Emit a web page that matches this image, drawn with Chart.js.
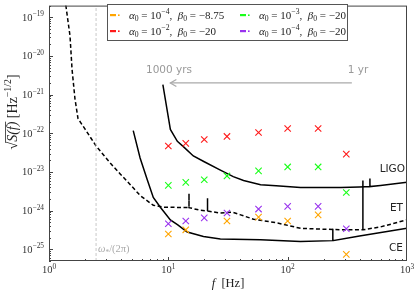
<!DOCTYPE html>
<html>
<head>
<meta charset="utf-8">
<script src="https://cdn.jsdelivr.net/npm/chart.js@4.4.0/dist/chart.umd.min.js"></script>
<style>
  html, body { margin: 0; padding: 0; background: #fff; }
</style>
</head>
<body>
<canvas id="c" width="415" height="291"></canvas>
<script>
// signal points (f in Hz, sqrt(S) in Hz^-1/2)
const freqs = [10, 14, 20, 31, 57, 100, 180, 310];
const orangeVals = [2.5e-25, 3.2e-25, null, 5.4e-25, 6.8e-25, 5.4e-25, 7.8e-25, 7.4e-26];
const redVals = [4.7e-23, 5.5e-23, 6.9e-23, 8.3e-23, 1.05e-22, 1.33e-22, 1.33e-22, 2.9e-23];
const greenVals = [4.5e-24, 5.4e-24, 6.3e-24, 7.9e-24, 1.07e-23, 1.35e-23, 1.35e-23, 2.95e-24];
const purpleVals = [4.6e-25, 5.4e-25, 6.5e-25, 8.7e-25, 1.1e-24, 1.29e-24, 1.29e-24, 3.4e-25];

// detector noise curves
const ligoFreq = [9.0, 10.4, 11.9, 13.5, 16.2, 20, 26.8, 35, 42.7, 59.3, 80, 128, 200, 279, 400, 489, 489, 489, 600, 1000];
const ligoAsd = [1.8e-21, 1.26e-22, 6.2e-23, 4.4e-23, 2.6e-23, 1.84e-23, 1.15e-23, 7.6e-24, 6.0e-24, 4.7e-24, 4.4e-24, 4.0e-24, 4.0e-24, 4.0e-24, 4.1e-24, 4.2e-24, 6.8e-24, 4.2e-24, 4.5e-24, 5.4e-24];

const etFreq = [1.36, 1.50, 1.56, 1.65, 1.75, 2.0, 2.48, 3.26, 3.95, 4.8, 5.82, 7.48, 9.08, 14.9, 14.9, 14.9, 18.6, 21.3, 21.3, 21.3, 27.3, 34.5, 40.3, 51.8, 82.4, 128, 279, 427, 600, 1000];
const etAsd = [3e-19, 3.3e-20, 4.5e-21, 7.8e-22, 2.4e-22, 1.3e-22, 4.7e-23, 1.7e-23, 8.9e-24, 4.7e-24, 2.45e-24, 1.38e-24, 1.23e-24, 1.2e-24, 2.75e-24, 1.2e-24, 1.02e-24, 9.8e-25, 2.1e-24, 9.8e-25, 8.7e-25, 9.1e-25, 7.8e-25, 6.0e-25, 4.8e-25, 3.5e-25, 3.2e-25, 3.2e-25, 3.8e-25, 5.8e-25];
const etLineFreq = [427, 427];
const etLineAsd = [3.2e-25, 6.0e-24];

const ceFreq = [5.08, 5.8, 6.66, 7.48, 8.57, 10.4, 12, 14.4, 19.7, 27.3, 59.3, 128, 239, 239, 239, 400, 1000];
const ceAsd = [1.17e-22, 2.3e-23, 6.3e-24, 2.2e-24, 1.23e-24, 5.75e-25, 4.3e-25, 2.8e-25, 2.15e-25, 1.86e-25, 1.78e-25, 1.6e-25, 1.68e-25, 3.4e-25, 1.68e-25, 2.2e-25, 3.5e-25];

const omegaStar = 2.48;
const arrowFreq = [345, 10.4];
const arrowAsd = 2e-21;

const xTicks = [1, 10, 100, 1000];
const xTickExp = ['0', '1', '2', '3'];
const yTicks = [1e-25, 1e-24, 1e-23, 1e-22, 1e-21, 1e-20, 1e-19];
const yTickExp = ['\u221225', '\u221224', '\u221223', '\u221222', '\u221221', '\u221220', '\u221219'];

const cOrange = '#ffa500';
const cRed = '#ff1a1a';
const cGreen = '#1aff1a';
const cPurple = '#9933ee';

const SERIF = '"Liberation Serif", "DejaVu Serif", serif';
const SANS = '"DejaVu Sans", "Liberation Sans", sans-serif';

function pairs(fs, vs) {
  return fs.map((f, i) => ({ x: f, y: vs[i] }));
}
function pts(vals) {
  return freqs.map((f, i) => ({ x: f, y: vals[i] })).filter(p => p.y !== null);
}
function crosses(vals, color) {
  return {
    data: pts(vals), showLine: false, pointStyle: 'crossRot',
    pointRadius: 4.5, borderColor: color, borderWidth: 1.1, backgroundColor: color
  };
}
function curve(data, dash) {
  return {
    data: data, showLine: true, pointRadius: 0, borderColor: '#000',
    borderWidth: 1.5, borderDash: dash || [], tension: 0, fill: false
  };
}

// rich text: parts {t, it, sup, sub, over}
function richWidth(ctx, parts, size, family) {
  let w = 0;
  parts.forEach(p => {
    const s = (p.sup || p.sub) ? size * 0.7 : size;
    ctx.font = (p.it ? 'italic ' : '') + s + 'px ' + family;
    w += ctx.measureText(p.t).width;
  });
  return w;
}
function drawRich(ctx, parts, x, y, size, family) {
  parts.forEach(p => {
    const s = (p.sup || p.sub) ? size * 0.7 : size;
    ctx.font = (p.it ? 'italic ' : '') + s + 'px ' + family;
    let dy = 0;
    if (p.sup) dy = -size * 0.42;
    if (p.sub) dy = size * 0.25;
    ctx.fillText(p.t, x, y + dy);
    const w = ctx.measureText(p.t).width;
    if (p.over) {
      ctx.save();
      ctx.lineWidth = 0.8;
      ctx.beginPath();
      ctx.moveTo(x - 1, y - size * 0.82);
      ctx.lineTo(x + w, y - size * 0.82);
      ctx.stroke();
      ctx.restore();
    }
    x += w;
  });
}

const legendItems = [
  { color: cOrange, parts: [{t:'\u03b1',it:true},{t:'0',sub:true},{t:' = 10'},{t:'\u22124',sup:true},{t:',  '},{t:'\u03b2',it:true},{t:'0',sub:true},{t:' = \u22128.75'}] },
  { color: cGreen, parts: [{t:'\u03b1',it:true},{t:'0',sub:true},{t:' = 10'},{t:'\u22123',sup:true},{t:',  '},{t:'\u03b2',it:true},{t:'0',sub:true},{t:' = \u221220'}] },
  { color: cRed, parts: [{t:'\u03b1',it:true},{t:'0',sub:true},{t:' = 10'},{t:'\u22122',sup:true},{t:',  '},{t:'\u03b2',it:true},{t:'0',sub:true},{t:' = \u221220'}] },
  { color: cPurple, parts: [{t:'\u03b1',it:true},{t:'0',sub:true},{t:' = 10'},{t:'\u22124',sup:true},{t:',  '},{t:'\u03b2',it:true},{t:'0',sub:true},{t:' = \u221220'}] }
];

const decor = {
  id: 'decor',
  afterDraw(chart) {
    const ctx = chart.ctx;
    const a = chart.chartArea;
    const xs = chart.scales.x, ys = chart.scales.y;
    ctx.save();

    // arrowhead
    const ax = xs.getPixelForValue(arrowFreq[1]);
    const ay = ys.getPixelForValue(arrowAsd);
    ctx.strokeStyle = '#aaa';
    ctx.lineWidth = 1.3;
    ctx.beginPath();
    ctx.moveTo(ax + 6, ay - 3.5);
    ctx.lineTo(ax, ay);
    ctx.lineTo(ax + 6, ay + 3.5);
    ctx.stroke();

    // frame
    ctx.strokeStyle = '#444';
    ctx.lineWidth = 1;
    ctx.strokeRect(a.left + 0.5, a.top + 0.5, a.right - a.left - 1, a.bottom - a.top - 1);

    // ticks (inward)
    ctx.beginPath();
    for (let e = 0; e < 3; e++) {
      for (let m = 1; m < 10; m++) {
        const v = m * Math.pow(10, e);
        const px = Math.round(xs.getPixelForValue(v)) + 0.5;
        const len = m === 1 ? 4 : 2;
        ctx.moveTo(px, a.bottom);
        ctx.lineTo(px, a.bottom - len);
      }
    }
    for (let e = -26; e < -18; e++) {
      for (let m = 1; m < 10; m++) {
        const v = m * Math.pow(10, e);
        if (v < ys.min || v > ys.max) continue;
        const py = Math.round(ys.getPixelForValue(v)) + 0.5;
        const len = m === 1 ? 4 : 2;
        ctx.moveTo(a.left, py);
        ctx.lineTo(a.left + len, py);
      }
    }
    ctx.stroke();

    // tick labels
    ctx.fillStyle = '#333';
    ctx.textBaseline = 'alphabetic';
    xTicks.forEach((v, i) => {
      const parts = [{t:'10'},{t:xTickExp[i],sup:true}];
      const w = richWidth(ctx, parts, 10.5, SERIF);
      const px = xs.getPixelForValue(v);
      drawRich(ctx, parts, px - w / 2, 273, 10.5, SERIF);
    });
    yTicks.forEach((v, i) => {
      const parts = [{t:'10'},{t:yTickExp[i],sup:true}];
      const w = richWidth(ctx, parts, 10.5, SERIF);
      const py = ys.getPixelForValue(v);
      drawRich(ctx, parts, a.left - 5 - w, py + 3.5, 10.5, SERIF);
    });

    // axis titles
    ctx.fillStyle = '#222';
    const xt = [{t:'f',it:true},{t:'  [Hz]'}];
    const xw = richWidth(ctx, xt, 12.5, SERIF);
    drawRich(ctx, xt, (a.left + a.right) / 2 - xw / 2, 287, 12.5, SERIF);

    ctx.save();
    ctx.translate(17, 112);
    ctx.rotate(-Math.PI / 2);
    ctx.strokeStyle = '#222';
    const yt = [{t:'\u221a'},{t:'S(f)',it:true,over:true},{t:' [Hz'},{t:'\u22121/2',sup:true},{t:']'}];
    const yw = richWidth(ctx, yt, 14, SERIF);
    drawRich(ctx, yt, -yw / 2, 0, 14, SERIF);
    ctx.restore();

    // omega_* label
    ctx.fillStyle = '#aaa';
    drawRich(ctx, [{t:'\u03c9',it:true},{t:'*',sub:true},{t:'/(2\u03c0)'}], xs.getPixelForValue(omegaStar) + 2, 252, 10.5, SERIF);

    // arrow labels
    ctx.font = '10.5px ' + SANS;
    ctx.fillStyle = '#999';
    ctx.textAlign = 'center';
    ctx.fillText('1000 yrs', 169, 73);
    ctx.fillText('1 yr', 358, 73);

    // detector labels
    ctx.fillStyle = '#222';
    ctx.textAlign = 'right';
    ctx.font = '10.5px ' + SANS;
    ctx.fillText('LIGO', 405, 172);
    ctx.fillText('ET', 403, 211);
    ctx.fillText('CE', 403, 251);
    ctx.textAlign = 'left';

    // legend
    ctx.fillStyle = '#fff';
    ctx.fillRect(107, 4, 240, 36);
    ctx.strokeStyle = '#555';
    ctx.lineWidth = 1;
    ctx.strokeRect(107.5, 4.5, 240, 36);
    const cols = [110, 240];
    const rows = [15, 31];
    legendItems.forEach((it, i) => {
      const lx = cols[i % 2];
      const ly = rows[Math.floor(i / 2)];
      ctx.fillStyle = it.color;
      ctx.fillRect(lx, ly - 1, 6, 2.2);
      ctx.fillRect(lx + 8, ly - 0.6, 1.6, 1.6);
      ctx.fillStyle = '#222';
      drawRich(ctx, it.parts, lx + 19, ly + 3.5, 11, SERIF);
    });

    ctx.restore();
  }
};

new Chart(document.getElementById('c'), {
  type: 'scatter',
  data: {
    datasets: [
      { data: [{x: omegaStar, y: 5e-26}, {x: omegaStar, y: 2e-19}], showLine: true, pointRadius: 0,
        borderColor: '#c8c8c8', borderWidth: 1, borderDash: [3, 2] },
      { data: [{x: arrowFreq[0], y: arrowAsd}, {x: arrowFreq[1], y: arrowAsd}], showLine: true, pointRadius: 0,
        borderColor: '#aaa', borderWidth: 1.3 },
      crosses(orangeVals, cOrange),
      crosses(redVals, cRed),
      crosses(greenVals, cGreen),
      crosses(purpleVals, cPurple),
      curve(pairs(ligoFreq, ligoAsd)),
      curve(pairs(etFreq, etAsd), [4, 2.5]),
      curve(pairs(etLineFreq, etLineAsd)),
      curve(pairs(ceFreq, ceAsd))
    ]
  },
  options: {
    responsive: false,
    animation: false,
    devicePixelRatio: 1,
    layout: { padding: { left: 49, right: 8, top: 2, bottom: 30 } },
    plugins: { legend: { display: false }, tooltip: { enabled: false } },
    scales: {
      x: { type: 'logarithmic', min: 1, max: 1000, display: false },
      y: { type: 'logarithmic', min: 5e-26, max: 2e-19, display: false }
    }
  },
  plugins: [decor]
});
</script>
</body>
</html>
